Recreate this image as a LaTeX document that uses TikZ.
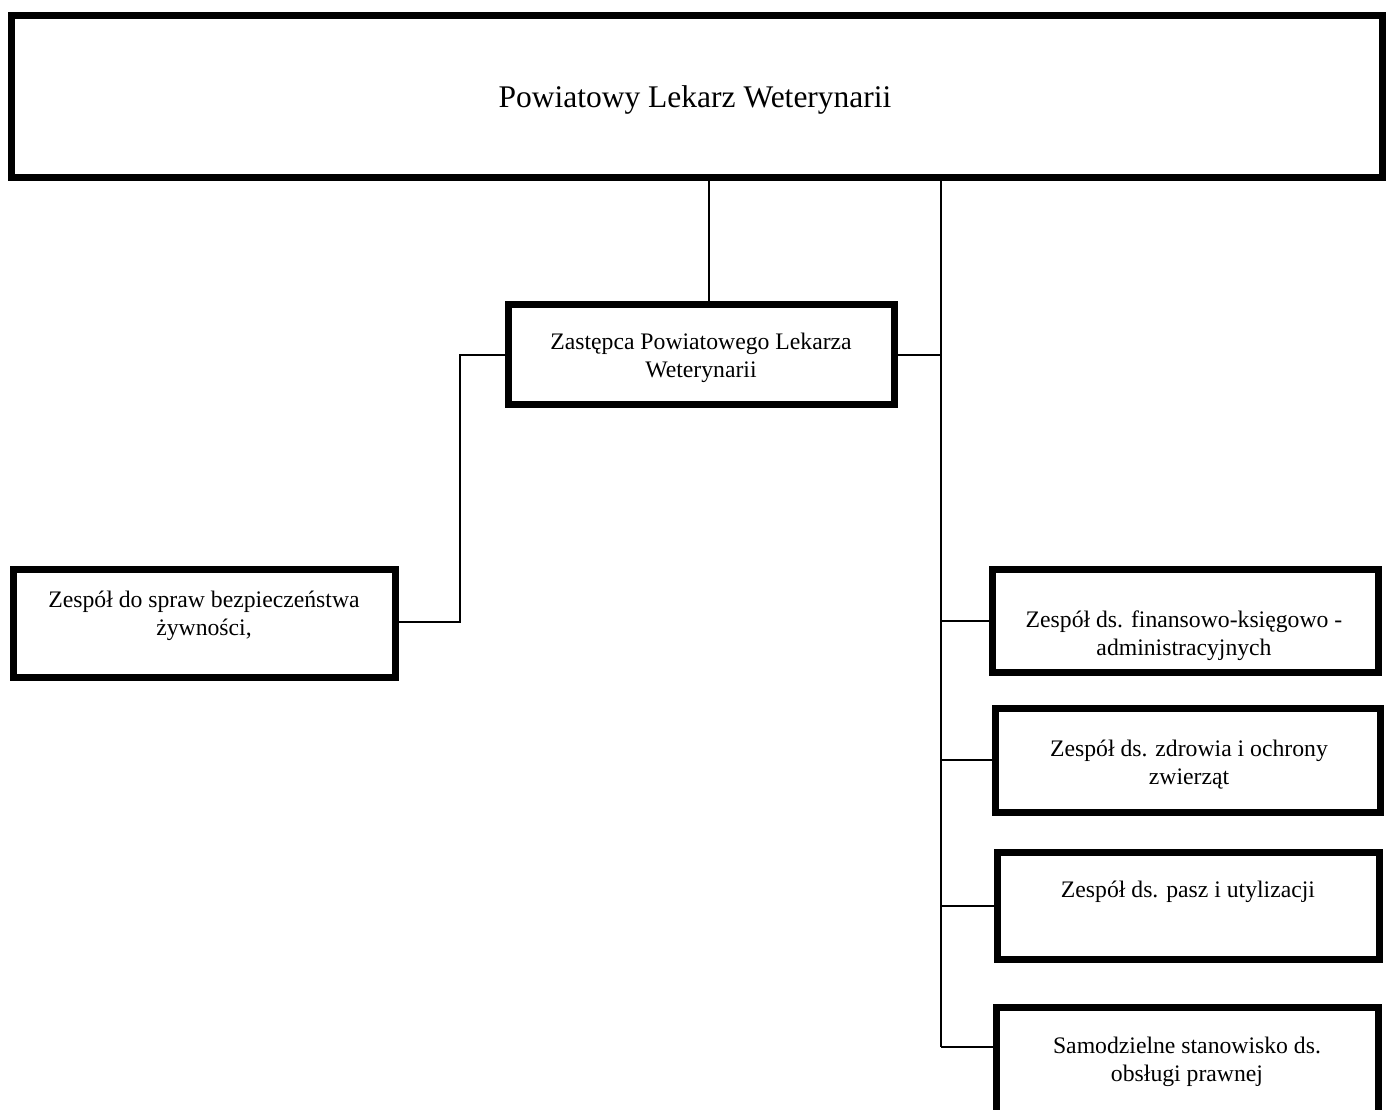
\documentclass[tikz,border=0pt]{standalone}
\usepackage{fontspec}
\setmainfont{Liberation Serif}
\begin{document}
\begin{tikzpicture}[x=1pt,y=-1pt,
  box/.style={draw, line width=7pt, rectangle, inner sep=0pt, outer sep=0pt},
  conn/.style={line width=2pt},
  txt/.style={align=center, inner sep=0pt, font=\fontsize{23.7}{28}\selectfont}]
\useasboundingbox (0,0) rectangle (1391,1109);
\clip (0,0) rectangle (1391,1109);
\fill[white] (0,0) rectangle (1391,1109);
% boxes
\node[box, minimum width=1371pt, minimum height=162.5pt] (top) at (697,96.25) {};
\node[box, minimum width=386pt, minimum height=100pt] (zast) at (701.5,354.5) {};
\node[box, minimum width=381.5pt, minimum height=108pt] (bezp) at (204.25,623.5) {};
\node[box, minimum width=386pt, minimum height=103pt] (b1) at (1185,620.5) {};
\node[box, minimum width=384.5pt, minimum height=104pt] (b2) at (1187.75,760) {};
\node[box, minimum width=382pt, minimum height=107pt] (b3) at (1188,906) {};
\node[box, minimum width=381.5pt, minimum height=106pt] (b4) at (1187.25,1060) {};
% texts
\node[txt, font=\fontsize{31.5}{37}\selectfont] (ttop) at (695,100) {Powiatowy Lekarz Weterynarii};
\node[txt] (tzast) at (701,358) {Zastępca Powiatowego Lekarza\\Weterynarii};
\node[txt] (tbezp) at (204,616) {Zespół do spraw bezpieczeństwa\\żywności,};
\node[txt] (tb1) at (1184,636) {Zespół ds. finansowo-księgowo -\\administracyjnych};
\node[txt] (tb2) at (1189,765) {Zespół ds. zdrowia i ochrony\\zwierząt};
\node[txt] (tb3) at (1188,892) {Zespół ds. pasz i utylizacji};
\node[txt] (tb4) at (1187,1062) {Samodzielne stanowisko ds.\\obsługi prawnej};
% junctions
\coordinate (j0) at (709,181);
\coordinate (bt) at (941,181);
\coordinate (bb) at (941,1047);
\coordinate (jl) at (460,622);
% connectors
\draw[conn] (j0) -- (j0 |- zast.north);
\draw[conn] (bt) -- (bb);
\draw[conn] (zast.east) -- (zast.east -| bt);
\draw[conn] (zast.west) -| (jl) -- (jl -| bezp.east);
\draw[conn] (bt |- b1.west) -- (b1.west);
\draw[conn] (bt |- b2.west) -- (b2.west);
\draw[conn] (bt |- b3.west) -- (b3.west);
\draw[conn] (bb) -- (bb -| b4.west);
\end{tikzpicture}
\end{document}
